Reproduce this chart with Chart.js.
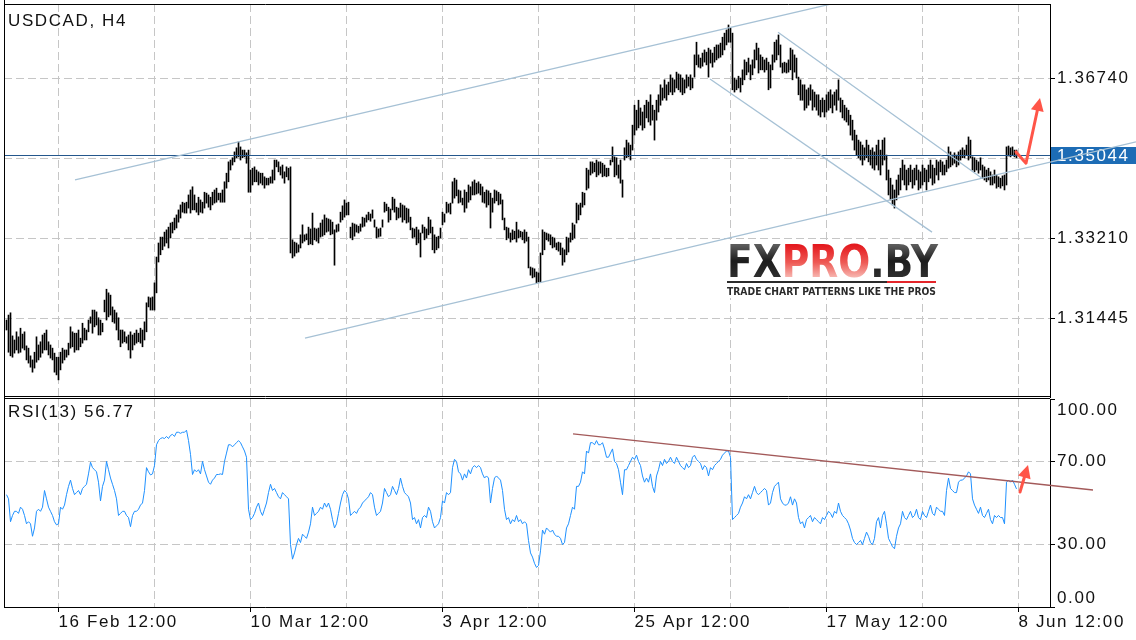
<!DOCTYPE html>
<html>
<head>
<meta charset="utf-8">
<script src="https://cdn.jsdelivr.net/npm/chart.js@4/dist/chart.umd.min.js"></script>
<style>
  html, body { margin: 0; padding: 0; background: #fff; }
  #wrap { position: relative; width: 1136px; height: 640px; overflow: hidden; }
  #price { position: absolute; left: 0; top: 0; }
  #rsi { position: absolute; left: 0; top: 398px; }
</style>
</head>
<body>
<div id="wrap">
  <canvas id="price" width="1136" height="398"></canvas>
  <canvas id="rsi" width="1136" height="242"></canvas>
</div>
<script>
// H4 bars, one per index; highs / lows
const highs = [
1.3140,1.3151,1.3156,1.3105,1.3096,1.3114,1.3103,1.3122,1.3109,1.3114,
1.3083,1.3078,1.3061,1.3052,1.3069,1.3103,1.3085,1.3092,1.3107,1.3111,
1.3118,1.3092,1.3085,1.3078,1.3067,1.3058,1.3058,1.3069,1.3078,1.3074,
1.3074,1.3089,1.3125,1.3114,1.3111,1.3111,1.3118,1.3100,1.3133,1.3122,
1.3118,1.3140,1.3147,1.3162,1.3162,1.3158,1.3145,1.3140,1.3133,1.3184,
1.3208,1.3200,1.3195,1.3169,1.3162,1.3156,1.3145,1.3118,1.3118,1.3114,
1.3103,1.3107,1.3114,1.3107,1.3111,1.3118,1.3111,1.3122,1.3118,1.3136,
1.3178,1.3191,1.3189,1.3191,1.3222,1.3279,1.3310,1.3323,1.3323,1.3334,
1.3339,1.3345,1.3354,1.3356,1.3365,1.3372,1.3383,1.3394,1.3400,1.3398,
1.3400,1.3416,1.3427,1.3434,1.3416,1.3398,1.3411,1.3405,1.3400,1.3422,
1.3420,1.3416,1.3411,1.3422,1.3427,1.3431,1.3420,1.3420,1.3427,1.3445,
1.3464,1.3489,1.3493,1.3498,1.3511,1.3520,1.3533,1.3522,1.3515,1.3515,
1.3509,1.3515,1.3471,1.3475,1.3478,1.3471,1.3467,1.3464,1.3464,1.3456,
1.3453,1.3453,1.3456,1.3471,1.3493,1.3493,1.3489,1.3478,1.3482,1.3467,
1.3478,1.3475,1.3478,1.3317,1.3312,1.3310,1.3306,1.3328,1.3350,1.3328,
1.3330,1.3345,1.3341,1.3376,1.3343,1.3341,1.3343,1.3354,1.3361,1.3372,
1.3365,1.3363,1.3361,1.3356,1.3339,1.3350,1.3352,1.3378,1.3392,1.3405,
1.3398,1.3400,1.3345,1.3354,1.3352,1.3350,1.3347,1.3352,1.3367,1.3365,
1.3372,1.3378,1.3374,1.3383,1.3361,1.3345,1.3341,1.3343,1.3361,1.3400,
1.3396,1.3389,1.3385,1.3411,1.3407,1.3389,1.3387,1.3398,1.3394,1.3392,
1.3387,1.3385,1.3367,1.3343,1.3341,1.3345,1.3339,1.3332,1.3350,1.3345,
1.3341,1.3367,1.3361,1.3345,1.3328,1.3323,1.3325,1.3343,1.3378,1.3374,
1.3400,1.3396,1.3398,1.3445,1.3453,1.3449,1.3427,1.3425,1.3409,1.3427,
1.3422,1.3438,1.3434,1.3445,1.3449,1.3442,1.3445,1.3440,1.3434,1.3422,
1.3427,1.3425,1.3420,1.3409,1.3427,1.3425,1.3422,1.3418,1.3405,1.3365,
1.3345,1.3343,1.3332,1.3339,1.3336,1.3356,1.3339,1.3336,1.3334,1.3339,
1.3334,1.3323,1.3257,1.3255,1.3253,1.3246,1.3244,1.3288,1.3339,1.3334,
1.3332,1.3330,1.3328,1.3323,1.3321,1.3310,1.3312,1.3310,1.3299,1.3295,
1.3323,1.3321,1.3332,1.3354,1.3350,1.3398,1.3394,1.3398,1.3422,1.3420,
1.3475,1.3471,1.3489,1.3489,1.3486,1.3493,1.3489,1.3489,1.3486,1.3482,
1.3475,1.3475,1.3493,1.3522,1.3500,1.3498,1.3482,1.3493,1.3449,1.3520,
1.3537,1.3531,1.3526,1.3570,1.3614,1.3603,1.3625,1.3608,1.3599,1.3614,
1.3625,1.3621,1.3637,1.3614,1.3603,1.3625,1.3637,1.3659,1.3652,1.3670,
1.3659,1.3665,1.3681,1.3674,1.3670,1.3687,1.3683,1.3681,1.3674,1.3670,
1.3681,1.3676,1.3681,1.3674,1.3725,1.3753,1.3725,1.3718,1.3729,1.3736,
1.3731,1.3740,1.3736,1.3729,1.3742,1.3747,1.3747,1.3751,1.3764,1.3773,
1.3780,1.3791,1.3784,1.3773,1.3674,1.3670,1.3678,1.3674,1.3692,1.3714,
1.3709,1.3718,1.3703,1.3714,1.3736,1.3751,1.3740,1.3725,1.3720,1.3714,
1.3718,1.3709,1.3703,1.3725,1.3753,1.3758,1.3769,1.3747,1.3707,1.3709,
1.3707,1.3714,1.3740,1.3736,1.3725,1.3718,1.3676,1.3670,1.3659,1.3659,
1.3648,1.3652,1.3659,1.3648,1.3643,1.3637,1.3637,1.3625,1.3630,1.3625,
1.3637,1.3643,1.3648,1.3637,1.3643,1.3648,1.3670,1.3630,1.3625,1.3614,
1.3608,1.3603,1.3592,1.3581,1.3559,1.3548,1.3537,1.3533,1.3526,1.3520,
1.3537,1.3526,1.3515,1.3520,1.3511,1.3526,1.3537,1.3515,1.3537,1.3542,
1.3504,1.3471,1.3453,1.3438,1.3427,1.3449,1.3460,1.3475,1.3493,1.3482,
1.3471,1.3475,1.3482,1.3471,1.3475,1.3482,1.3471,1.3467,1.3482,1.3475,
1.3471,1.3482,1.3493,1.3482,1.3475,1.3493,1.3489,1.3493,1.3489,1.3482,
1.3493,1.3522,1.3511,1.3504,1.3509,1.3504,1.3511,1.3515,1.3520,1.3515,
1.3526,1.3544,1.3537,1.3500,1.3498,1.3493,1.3489,1.3498,1.3482,1.3478,
1.3471,1.3475,1.3467,1.3460,1.3471,1.3460,1.3456,1.3453,1.3458,1.3460,
1.3522,1.3524,1.3520,1.3522,1.3515,1.3515
];
const lows = [
1.3118,1.3069,1.3061,1.3058,1.3067,1.3074,1.3067,1.3069,1.3078,1.3074,
1.3052,1.3045,1.3036,1.3025,1.3034,1.3047,1.3052,1.3058,1.3067,1.3074,
1.3074,1.3063,1.3056,1.3052,1.3025,1.3019,1.3008,1.3030,1.3045,1.3052,
1.3058,1.3063,1.3078,1.3081,1.3069,1.3074,1.3074,1.3081,1.3089,1.3096,
1.3096,1.3114,1.3133,1.3111,1.3125,1.3129,1.3107,1.3107,1.3114,1.3158,
1.3140,1.3147,1.3151,1.3136,1.3133,1.3118,1.3096,1.3081,1.3089,1.3092,
1.3089,1.3074,1.3056,1.3074,1.3085,1.3089,1.3092,1.3089,1.3081,1.3096,
1.3114,1.3169,1.3162,1.3162,1.3162,1.3200,1.3268,1.3284,1.3295,1.3303,
1.3310,1.3299,1.3321,1.3332,1.3339,1.3343,1.3356,1.3365,1.3378,1.3376,
1.3376,1.3387,1.3376,1.3383,1.3383,1.3378,1.3372,1.3378,1.3376,1.3387,
1.3398,1.3389,1.3383,1.3394,1.3398,1.3400,1.3405,1.3400,1.3400,1.3400,
1.3431,1.3445,1.3471,1.3482,1.3489,1.3498,1.3500,1.3493,1.3498,1.3500,
1.3486,1.3422,1.3422,1.3438,1.3445,1.3445,1.3438,1.3442,1.3438,1.3431,
1.3438,1.3438,1.3442,1.3442,1.3449,1.3478,1.3467,1.3460,1.3453,1.3442,
1.3456,1.3449,1.3288,1.3277,1.3281,1.3288,1.3290,1.3299,1.3310,1.3314,
1.3317,1.3306,1.3308,1.3306,1.3317,1.3314,1.3310,1.3323,1.3325,1.3328,
1.3334,1.3336,1.3328,1.3330,1.3261,1.3334,1.3336,1.3356,1.3361,1.3367,
1.3372,1.3372,1.3321,1.3317,1.3325,1.3334,1.3332,1.3336,1.3345,1.3347,
1.3356,1.3361,1.3358,1.3365,1.3345,1.3321,1.3323,1.3325,1.3345,1.3378,
1.3381,1.3356,1.3361,1.3383,1.3378,1.3361,1.3365,1.3367,1.3356,1.3361,
1.3354,1.3356,1.3339,1.3321,1.3323,1.3306,1.3310,1.3279,1.3332,1.3317,
1.3321,1.3328,1.3332,1.3295,1.3288,1.3295,1.3299,1.3321,1.3350,1.3356,
1.3376,1.3378,1.3374,1.3398,1.3409,1.3414,1.3398,1.3400,1.3394,1.3378,
1.3387,1.3400,1.3405,1.3416,1.3416,1.3418,1.3420,1.3416,1.3400,1.3398,
1.3389,1.3394,1.3343,1.3378,1.3398,1.3403,1.3394,1.3396,1.3361,1.3339,
1.3317,1.3321,1.3312,1.3317,1.3319,1.3312,1.3321,1.3323,1.3317,1.3310,
1.3314,1.3255,1.3239,1.3233,1.3235,1.3222,1.3224,1.3224,1.3284,1.3295,
1.3317,1.3314,1.3306,1.3299,1.3301,1.3295,1.3292,1.3284,1.3261,1.3268,
1.3284,1.3290,1.3312,1.3317,1.3321,1.3354,1.3361,1.3372,1.3389,1.3394,
1.3427,1.3431,1.3460,1.3464,1.3467,1.3456,1.3460,1.3464,1.3456,1.3458,
1.3456,1.3458,1.3482,1.3489,1.3456,1.3460,1.3453,1.3442,1.3411,1.3493,
1.3498,1.3500,1.3493,1.3515,1.3548,1.3559,1.3564,1.3570,1.3559,1.3564,
1.3586,1.3577,1.3570,1.3581,1.3537,1.3581,1.3599,1.3614,1.3625,1.3630,
1.3625,1.3637,1.3643,1.3637,1.3643,1.3652,1.3648,1.3643,1.3637,1.3641,
1.3652,1.3656,1.3648,1.3652,1.3676,1.3703,1.3698,1.3696,1.3700,1.3709,
1.3703,1.3676,1.3707,1.3698,1.3709,1.3714,1.3718,1.3720,1.3725,1.3736,
1.3747,1.3753,1.3753,1.3648,1.3643,1.3648,1.3652,1.3643,1.3659,1.3670,
1.3681,1.3687,1.3670,1.3681,1.3696,1.3714,1.3685,1.3692,1.3692,1.3687,
1.3692,1.3648,1.3652,1.3692,1.3709,1.3714,1.3725,1.3698,1.3685,1.3687,
1.3685,1.3687,1.3692,1.3670,1.3687,1.3674,1.3637,1.3625,1.3625,1.3603,
1.3608,1.3614,1.3625,1.3603,1.3610,1.3603,1.3592,1.3588,1.3599,1.3588,
1.3599,1.3603,1.3608,1.3597,1.3614,1.3603,1.3625,1.3599,1.3586,1.3581,
1.3577,1.3570,1.3548,1.3537,1.3515,1.3504,1.3498,1.3493,1.3482,1.3493,
1.3498,1.3489,1.3482,1.3475,1.3471,1.3482,1.3471,1.3460,1.3482,1.3493,
1.3449,1.3416,1.3405,1.3394,1.3387,1.3405,1.3416,1.3427,1.3449,1.3438,
1.3427,1.3438,1.3445,1.3431,1.3438,1.3449,1.3427,1.3431,1.3438,1.3445,
1.3427,1.3445,1.3453,1.3438,1.3442,1.3460,1.3449,1.3467,1.3460,1.3460,
1.3467,1.3475,1.3478,1.3482,1.3486,1.3478,1.3482,1.3493,1.3498,1.3498,
1.3504,1.3493,1.3498,1.3471,1.3467,1.3471,1.3464,1.3471,1.3453,1.3449,
1.3445,1.3449,1.3438,1.3438,1.3442,1.3431,1.3434,1.3431,1.3436,1.3427,
1.3438,1.3502,1.3500,1.3504,1.3500,1.3498
];
// RSI(13), one value per bar
const rsi = [
54,52,41,44,46,46,45,48,47,44,
40,41,40,34,38,46,47,46,48,56,
52,48,46,44,41,39.5,40,48,47,49,
54,58,61,57,54,55,56,54,57,58,
59,64,69.6,67,66,65,60,51,58,61,
70,66,62,59,56,52,44,45,46,46,
44,43,38.6,44,46,46,47,49,50,56,
67,65,63.5,64,68,78,80,81,81.4,81,
82,81,82.5,83,82,84,84,83.5,84,84,
85,80,73.4,63.7,66,65,66,64,70,66,
63,60,59,61,62,63.7,63.7,64,63.7,70,
74,78,78,77,78,79,80,79,77,75,
72,47,42,43,45,48,50,46,44,47,
50,55,59,56,57,55,53,52,55,54,
53,52,30,23,26,30,33,31,35,34,
33,36,40,48,44,45,46,48,47,50,
48,50,47,42,38,40,45,50,54,56,
55,52,44,45,46,45,47,48,50,51,
52,53,55,54,48,44,45,46,50,57,
55,53,54,58,56,54,57,62,58,55,
54,53,50,42,43,40,42,38,43,44,
43,48,46,41,38,39,40,43,51,50,
55,54,55,67,71,70,65,64,61,64,
62,66,64,67,68,67,68,67,64,62,
63,62,50,57,62,63,62,61,56,47,
42,43,40,42,41,44,41,42,40,41,
40,32,26,24,21,19,20,27,37,35,
38,37,36,37,35,34,34,33,30,31,
38,40,44,48,47,58,58,60,65,64,
75,74,79,79,78,80,78,78,79,76,
72,72,74,76,70,69,66,60,54,66,
66,68,70,72,71,73,70,68,63,60,
62,60,64,58,55,63,66,70,68,71,
69,70,72,70,69,72,70,68,67,66,
69,67,68,72,73,71,70,69,66,68,
67,63,67,66,68,69,70,71,73,74,
75,75,72,42,43,44,45,48,50,53,
52,54,52,55,58,55,54,55,56,57,
56,49,50,55,58,59,60,52,50,49,
49,50,53,49,52,50,43,40,41,38,
42,43,44,41,43,42,41,40,43,42,
44,46,45,43,46,45,50,46,44,43,
42,40,37,33,31,30,31,32,30,33,
36,34,31,30,33,41,43,38,44,46,
40,33,31,29,28,34,38,40,46,43,
42,44,46,43,44,47,43,42,46,44,
43,46,49,45,44,48,47,46,46,44,
56,62,57,56,55,55,60,61,61,62,
63,65,64,52,49,47,45,48,44,43,
45,47,42,40,44,43,44,43,43,40,
60,61,60,61,59,56.77
];

const xLabels = ['16 Feb 12:00', '10 Mar 12:00', '3 Apr 12:00', '25 Apr 12:00', '17 May 12:00', '8 Jun 12:00'];
const labelIdx = [26, 122, 218, 314, 410, 506];
const gridIdx = [26, 74, 122, 170, 218, 266, 314, 362, 410, 458, 506];
const priceTicks = [1.31445, 1.33210, 1.34975, 1.36740];
const rsiTicks = [0, 30, 70, 100];
const lastPrice = 1.35044;

// drawn objects, [bar index, value]
const channelLines = [
  [[34.25, 1.3449], [421.75, 1.3847]],
  [[149.25, 1.3100], [564.75, 1.3533]],
  [[385.75, 1.3775], [487.75, 1.3453]],
  [[351.75, 1.3672], [462.75, 1.3334]],
];
const rsiTrend = [[283.25, 83.2], [543.25, 56.25]];
const priceArrow = [[504.75, 1.3511], [509.75, 1.3486], [516.75, 1.3630]];
const rsiArrow = [[506.75, 55.3], [510.75, 68.3]];

const X_MIN = -1.25, X_MAX = 521.75;
const GRID = '#c6c6c6';
const FONT = '"Liberation Sans", Arial, sans-serif';
const SPACING = '1.6px';

Chart.defaults.font.family = FONT;
Chart.defaults.font.size = 17;
Chart.defaults.color = '#111';

function toPx(chart, yId, p) {
  return [chart.scales.x.getPixelForValue(p[0]), chart.scales[yId].getPixelForValue(p[1])];
}

function drawArrow(ctx, pts, color) {
  ctx.save();
  ctx.strokeStyle = color;
  ctx.fillStyle = color;
  ctx.lineWidth = 3;
  ctx.lineCap = 'round';
  ctx.lineJoin = 'round';
  const a = pts[pts.length - 2], b = pts[pts.length - 1];
  const ang = Math.atan2(b[1] - a[1], b[0] - a[0]);
  const head = 13;
  ctx.beginPath();
  pts.forEach((p, k) => {
    let q = p;
    if (k === pts.length - 1) q = [b[0] - (head - 2) * Math.cos(ang), b[1] - (head - 2) * Math.sin(ang)];
    k ? ctx.lineTo(q[0], q[1]) : ctx.moveTo(q[0], q[1]);
  });
  ctx.stroke();
  ctx.beginPath();
  ctx.moveTo(b[0], b[1]);
  ctx.lineTo(b[0] - head * Math.cos(ang) + 6.5 * Math.sin(ang), b[1] - head * Math.sin(ang) - 6.5 * Math.cos(ang));
  ctx.lineTo(b[0] - head * Math.cos(ang) - 6.5 * Math.sin(ang), b[1] - head * Math.sin(ang) + 6.5 * Math.cos(ang));
  ctx.closePath();
  ctx.fill();
  ctx.restore();
}

function drawLogo(ctx) {
  ctx.save();
  ctx.letterSpacing = '0px';
  ctx.fillStyle = '#fff';
  ctx.fillRect(725, 241, 216, 57);
  ctx.font = 'bold 44px "DejaVu Sans Condensed", "DejaVu Sans", sans-serif';
  ctx.textBaseline = 'alphabetic';
  const parts = [['FX', 0], ['PRO', 1], ['.BY', 0]];
  const w = parts.map(p => ctx.measureText(p[0]).width);
  const total = w.reduce((s, v) => s + v, 0);
  ctx.save();
  ctx.translate(727, 277);
  ctx.scale(211 / total, 1);
  let cx = 0;
  parts.forEach((p, k) => {
    const g = ctx.createLinearGradient(0, -32, 0, 0);
    if (p[1]) { g.addColorStop(0, '#e4191e'); g.addColorStop(0.55, '#ee5a55'); g.addColorStop(1, '#f7b4ae'); }
    else { g.addColorStop(0, '#5c5c5c'); g.addColorStop(0.5, '#1c1c1c'); g.addColorStop(1, '#2e2e2e'); }
    ctx.fillStyle = g;
    ctx.fillText(p[0], cx, 0);
    cx += w[k];
  });
  ctx.restore();
  ctx.fillStyle = '#2b2b2b';
  ctx.fillRect(727, 281, 160, 2);
  ctx.fillStyle = '#e4252a';
  ctx.fillRect(887, 281, 49, 2);
  ctx.font = 'bold 11px "DejaVu Sans", sans-serif';
  const tag = 'TRADE CHART PATTERNS LIKE THE PROS';
  const tw = ctx.measureText(tag).width;
  ctx.translate(727, 295);
  ctx.scale(209 / tw, 1);
  ctx.fillStyle = '#2a2a2a';
  ctx.fillText(tag, 0, 0);
  ctx.restore();
}

const textSpacing = {
  id: 'textSpacing',
  beforeDraw(chart) { chart.ctx.letterSpacing = SPACING; }
};

function frame(chart, sides) {
  const { ctx, chartArea: a } = chart;
  ctx.save();
  ctx.strokeStyle = '#000';
  ctx.lineWidth = 1;
  ctx.beginPath();
  if (sides.left) { ctx.moveTo(a.left + 0.5, 0); ctx.lineTo(a.left + 0.5, a.bottom + 1); }
  if (sides.top) { ctx.moveTo(a.left, sides.top); ctx.lineTo(a.right, sides.top); }
  if (sides.bottom) { ctx.moveTo(a.left, a.bottom - 0.5); ctx.lineTo(a.right, a.bottom - 0.5); }
  ctx.stroke();
  ctx.restore();
}

const priceDeco = {
  id: 'priceDeco',
  beforeDatasetsDraw(chart) {
    drawLogo(chart.ctx);
  },
  afterDatasetsDraw(chart) {
    const { ctx, chartArea: a } = chart;
    const y = Math.round(chart.scales.y.getPixelForValue(lastPrice)) + 0.5;
    ctx.save();
    ctx.strokeStyle = '#24578c';
    ctx.lineWidth = 1;
    ctx.beginPath();
    ctx.moveTo(a.left, y);
    ctx.lineTo(a.right, y);
    ctx.stroke();
    ctx.fillStyle = '#1d6cb5';
    ctx.fillRect(a.right + 1, y - 8.5, chart.width - a.right - 1, 17);
    ctx.fillStyle = '#fff';
    ctx.font = '17px ' + FONT;
    ctx.letterSpacing = SPACING;
    ctx.textBaseline = 'middle';
    ctx.fillText(lastPrice.toFixed(5), a.right + 7, y + 1);
    ctx.restore();

    ctx.save();
    ctx.beginPath();
    ctx.rect(0, a.top, chart.width, a.bottom - a.top);
    ctx.clip();
    ctx.strokeStyle = '#a6c1d5';
    ctx.lineWidth = 1.3;
    channelLines.forEach(l => {
      const p = toPx(chart, 'y', l[0]), q = toPx(chart, 'y', l[1]);
      ctx.beginPath();
      ctx.moveTo(p[0], p[1]);
      ctx.lineTo(q[0], q[1]);
      ctx.stroke();
    });
    ctx.restore();
    drawArrow(ctx, priceArrow.map(p => toPx(chart, 'y', p)), '#ff5548');
  },
  afterDraw(chart) {
    const ctx = chart.ctx;
    frame(chart, { left: true, top: chart.chartArea.top + 0.5, bottom: true });
    ctx.save();
    ctx.font = '17px ' + FONT;
    ctx.letterSpacing = SPACING;
    ctx.fillStyle = '#111';
    ctx.fillText('USDCAD, H4', 8, 26);
    ctx.restore();
  }
};

const rsiDeco = {
  id: 'rsiDeco',
  afterDatasetsDraw(chart) {
    const ctx = chart.ctx;
    const p = toPx(chart, 'y', rsiTrend[0]), q = toPx(chart, 'y', rsiTrend[1]);
    ctx.save();
    ctx.strokeStyle = '#a35a5a';
    ctx.lineWidth = 1.3;
    ctx.beginPath();
    ctx.moveTo(p[0], p[1]);
    ctx.lineTo(q[0], q[1]);
    ctx.stroke();
    ctx.restore();
    drawArrow(ctx, rsiArrow.map(v => toPx(chart, 'y', v)), '#ff5548');
  },
  afterDraw(chart) {
    const { ctx, chartArea: a } = chart;
    frame(chart, { left: true, top: 0.5 });
    ctx.save();
    ctx.font = '17px ' + FONT;
    ctx.letterSpacing = SPACING;
    ctx.fillStyle = '#111';
    ctx.fillText('RSI(13) ' + rsi[rsi.length - 1].toFixed(2), 8, 19);
    ctx.textBaseline = 'middle';
    const ys = chart.scales.y;
    ctx.fillText((100).toFixed(2), a.right + 7, ys.getPixelForValue(100) + 11);
    ctx.fillText((0).toFixed(2), a.right + 7, ys.getPixelForValue(0) - 9);
    ctx.restore();
  }
};

const xGridScale = {
  type: 'linear',
  min: X_MIN,
  max: X_MAX,
  offset: false,
  afterBuildTicks: s => { s.ticks = gridIdx.map(v => ({ value: v })); },
};

new Chart(document.getElementById('price'), {
  type: 'bar',
  data: {
    datasets: [{
      data: highs.map((h, i) => ({ x: i, y: [lows[i], h] })),
      backgroundColor: '#000',
      borderWidth: 0,
      barThickness: 1,
      grouped: false,
    }]
  },
  options: {
    responsive: false,
    animation: false,
    events: [],
    layout: { padding: { left: 4, top: 4, right: 0, bottom: 1 } },
    plugins: { legend: { display: false }, tooltip: { enabled: false } },
    scales: {
      x: Object.assign({}, xGridScale, {
        grid: { offset: false, color: GRID, drawTicks: false },
        border: { display: false, dash: [8, 4] },
        ticks: { display: false },
        afterFit: s => { s.height = 0; s.paddingLeft = 0; s.paddingRight = 0; },
      }),
      y: {
        position: 'right',
        min: 1.29702,
        max: 1.38373,
        grid: { color: GRID, tickColor: '#000', tickLength: 5, tickBorderDash: [] },
        border: { color: '#000', dash: [8, 4] },
        ticks: {
          padding: 2,
          color: '#111',
          callback: v => Math.abs(v - lastPrice) < 0.0008 ? '' : v.toFixed(5),
        },
        afterBuildTicks: s => { s.ticks = priceTicks.map(v => ({ value: v })); },
        afterFit: s => { s.width = 86; s.paddingTop = 0; s.paddingBottom = 0; },
      }
    }
  },
  plugins: [textSpacing, priceDeco]
});

new Chart(document.getElementById('rsi'), {
  type: 'line',
  data: {
    datasets: [{
      data: rsi.map((v, i) => ({ x: i, y: v })),
      borderColor: '#1e90ff',
      borderWidth: 1,
      pointRadius: 0,
      tension: 0,
    }]
  },
  options: {
    responsive: false,
    animation: false,
    events: [],
    layout: { padding: { left: 4, top: 1, right: 0, bottom: 0 } },
    plugins: { legend: { display: false }, tooltip: { enabled: false } },
    scales: {
      x: Object.assign({}, xGridScale, {
        grid: {
          offset: false,
          color: GRID,
          tickLength: 5,
          tickBorderDash: [],
          tickColor: c => (c.tick && labelIdx.includes(c.tick.value)) ? '#000' : 'rgba(0,0,0,0)',
        },
        border: { display: true, color: '#000', dash: [8, 4] },
        ticks: {
          autoSkip: false,
          maxRotation: 0,
          minRotation: 0,
          align: 'start',
          padding: 0,
          color: '#111',
          callback: v => { const k = labelIdx.indexOf(v); return k < 0 ? '' : xLabels[k]; },
        },
        afterFit: s => { s.height = 33; s.paddingLeft = 0; s.paddingRight = 0; },
      }),
      y: {
        position: 'right',
        min: 0,
        max: 100,
        grid: {
          color: c => (c.tick && (c.tick.value === 30 || c.tick.value === 70)) ? GRID : 'rgba(0,0,0,0)',
          tickColor: '#000',
          tickLength: 5,
          tickBorderDash: [],
        },
        border: { color: '#000', dash: [8, 4] },
        ticks: {
          padding: 2,
          color: '#111',
          callback: v => (v === 30 || v === 70) ? v.toFixed(2) : '',
        },
        afterBuildTicks: s => { s.ticks = rsiTicks.map(v => ({ value: v })); },
        afterFit: s => { s.width = 86; s.paddingTop = 0; s.paddingBottom = 0; },
      }
    }
  },
  plugins: [textSpacing, rsiDeco]
});
</script>
</body>
</html>
